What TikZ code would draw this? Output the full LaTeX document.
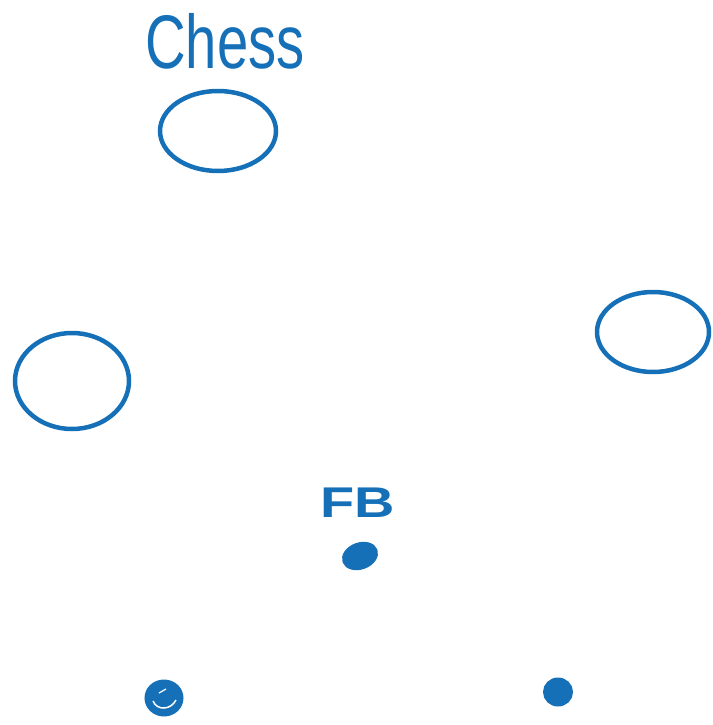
\documentclass[tikz,border=0pt]{standalone}
\usepackage{fontspec}
\setmainfont{Liberation Sans}
\usetikzlibrary{shapes.geometric}
\definecolor{pen}{HTML}{1570B8}
\tikzset{
  ring/.style={draw=pen, line width=4.5pt, ellipse, inner sep=0pt},
  blob/.style={draw=pen, fill=pen, line width=3pt, ellipse, inner sep=0pt},
  hand/.style={text=pen, inner sep=0pt}
}
\begin{document}
\begin{tikzpicture}[x=1pt,y=-1pt]
\useasboundingbox (0,0) rectangle (712,725);
\node[hand, font=\fontsize{76}{80}\selectfont, xscale=0.74] (chess) at (225,41) {Chess};
\node[ring, minimum width=116pt, minimum height=80pt] (top) at (218,131) {};
\node[ring, minimum width=114pt, minimum height=96pt] (left) at (72,381) {};
\node[ring, minimum width=112pt, minimum height=80pt] (right) at (653,332) {};
\node[hand, font=\bfseries\fontsize{43}{46}\selectfont, xscale=1.3] (fb) at (358,503) {FB};
\node[blob, minimum width=34pt, minimum height=24pt, rotate=20] (fbdot) at (360,556) {};
\node[blob, minimum width=36pt, minimum height=34pt] (bl) at (164,698) {};
\draw[white, line width=1.5pt] (153,701) .. controls (157,711) and (171,710) .. (176,700);
\draw[white, line width=1.2pt] (159,693) -- (166,689);
\node[blob, minimum width=27pt, minimum height=26pt] (br) at (558,692) {};
\end{tikzpicture}
\end{document}
